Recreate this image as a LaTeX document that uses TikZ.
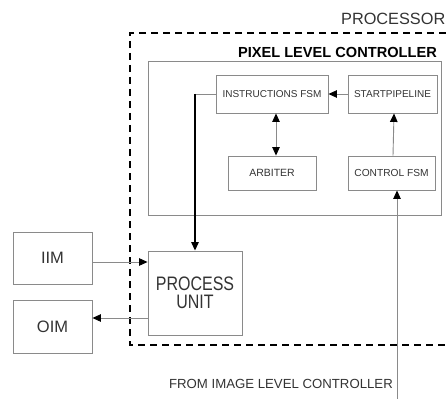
\documentclass[tikz,border=0pt]{standalone}
\usepackage{fontspec}
\setmainfont{Liberation Sans}
\newfontfamily\narrowf[FakeStretch=0.82]{Liberation Sans}
\usetikzlibrary{arrows.meta}
\definecolor{boxgray}{HTML}{8A8A8A}
\definecolor{txtgray}{HTML}{333333}
\tikzset{
  tip/.tip={Triangle[length=8.5pt,width=7.5pt,color=black]},
  blk/.style={draw=boxgray, line width=0.9pt, rectangle, inner sep=0pt, align=center, text=txtgray},
  arr/.style={draw=boxgray, line width=0.9pt, -tip},
  darr/.style={draw=boxgray, line width=0.9pt, tip-tip},
  barr/.style={draw=black, line width=1.3pt, -{Triangle[length=8.5pt,width=7.5pt]}},
  lbl/.style={inner sep=0pt, text=txtgray},
}
\begin{document}
\begin{tikzpicture}[x=1pt,y=-1pt]
\useasboundingbox (0,0) rectangle (446,398);
% processor dashed box
\draw[black, line width=2.2pt, dash pattern=on 7pt off 5pt] (470,33) -- (130,33) -- (130,345) -- (470,345);
\node[lbl, anchor=base east, font=\fontsize{16.3}{18}\selectfont] (proc) at (445.5,24.5) {PROCESSOR};
% pixel level controller
\draw[boxgray, line width=0.9pt] (148,61) rectangle (441,215);
\node[lbl, anchor=east, font=\fontsize{14.6}{17}\selectfont\bfseries, text=black] (plc) at (437,52) {PIXEL LEVEL CONTROLLER};
% blocks
\node[blk, minimum width=112pt, minimum height=38pt, font=\fontsize{10}{12}\selectfont] (instr) at (272,94) {INSTRUCTIONS FSM};
\node[blk, minimum width=89pt, minimum height=38pt, font=\fontsize{10}{12}\selectfont] (start) at (392.5,94) {STARTPIPELINE};
\node[blk, minimum width=88pt, minimum height=34pt, font=\fontsize{10.5}{12}\selectfont] (arb) at (272,173) {ARBITER};
\node[blk, minimum width=87pt, minimum height=34pt, font=\fontsize{10.2}{12}\selectfont] (cfsm) at (391.5,173) {CONTROL FSM};
\node[blk, minimum width=94pt, minimum height=84pt, font=\narrowf\fontsize{19.5}{18}\selectfont] (pu) at (195,293) {PROCESS\\UNIT};
\node[blk, minimum width=79pt, minimum height=52pt, font=\fontsize{16.5}{19}\selectfont] (iim) at (52.5,258) {IIM};
\node[blk, minimum width=79pt, minimum height=53pt, font=\fontsize{16.5}{19}\selectfont] (oim) at (52.5,326.5) {OIM};
\node[lbl, anchor=east, font=\fontsize{13.2}{16}\selectfont] (from) at (393,384) {FROM IMAGE LEVEL CONTROLLER};
% connectors
\draw[arr] (start.west) -- (instr.east);
\coordinate (ia) at ([xshift=4pt]instr.south);
\coordinate (ab) at ([xshift=4pt]arb.north);
\draw[darr] (ia) -- (ab);
\coordinate (cs) at ([xshift=1.5pt]cfsm.north);
\coordinate (sc) at ([xshift=1.5pt]start.south);
\draw[arr] (cs) -- (sc);
\coordinate (src) at (397,400);
\draw[arr] (src) -- (src |- cfsm.south);
\coordinate (bend) at (195,94);
\draw[boxgray, line width=0.9pt] (instr.west) -- (bend);
\draw[barr] (bend) -- (pu.north);
\coordinate (iimout) at ([yshift=-4pt]iim.east);
\draw[arr] (iimout) -- (iimout -| pu.west);
\coordinate (puout) at (148,318);
\draw[arr] (puout) -- (puout -| oim.east);
\end{tikzpicture}
\end{document}
